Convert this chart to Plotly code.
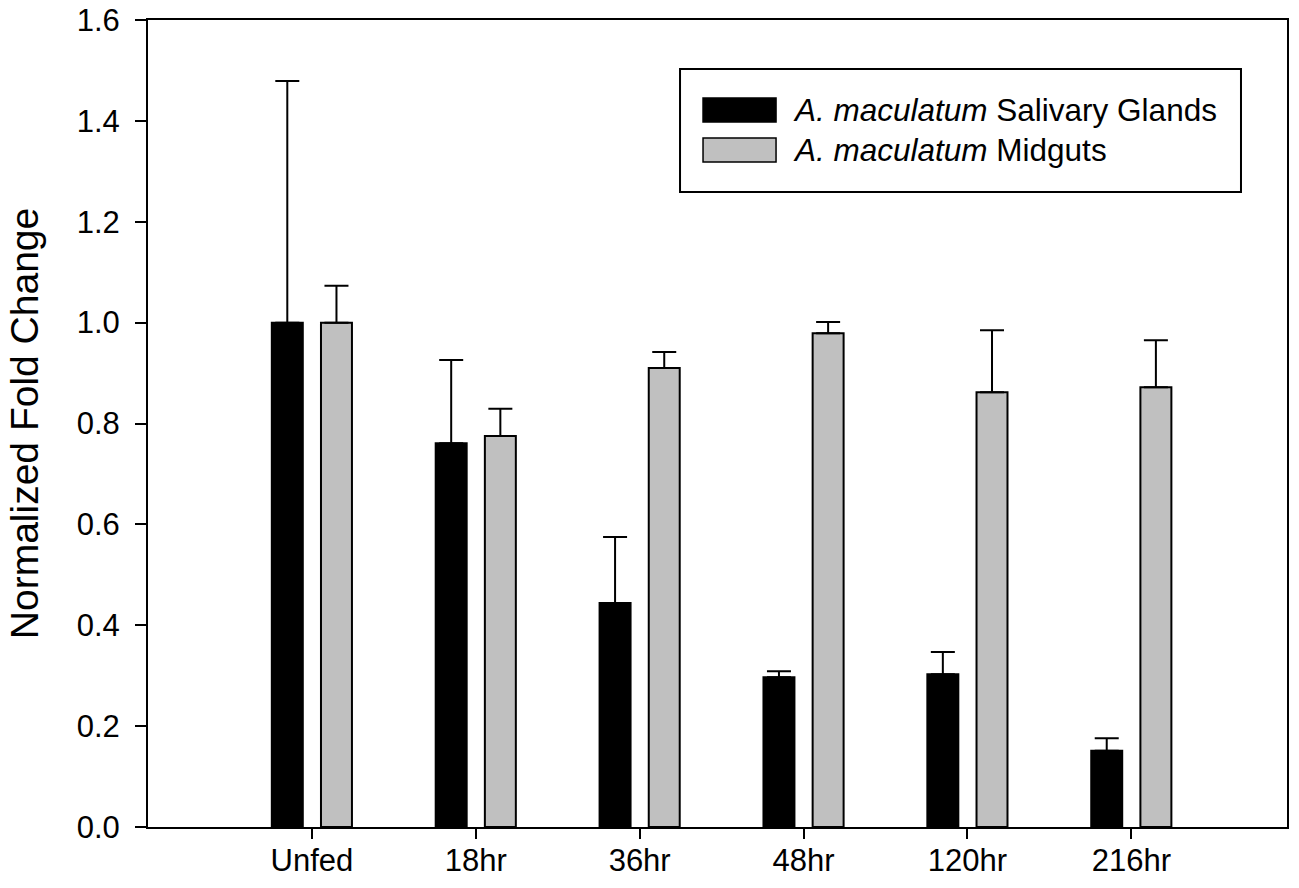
import plotly.graph_objects as go

categories = ["Unfed", "18hr", "36hr", "48hr", "120hr", "216hr"]
sg_name = "<i>A. maculatum</i> Salivary Glands"
mg_name = "<i>A. maculatum</i> Midguts"
sg_values = [1.000, 0.761, 0.444, 0.297, 0.303, 0.151]
sg_err = [0.479, 0.165, 0.131, 0.012, 0.044, 0.025]
mg_values = [1.000, 0.775, 0.910, 0.979, 0.862, 0.872]
mg_err = [0.073, 0.054, 0.032, 0.022, 0.123, 0.093]
y_ticks = [0.0, 0.2, 0.4, 0.6, 0.8, 1.0, 1.2, 1.4, 1.6]

FONT = "Liberation Sans, Arial, sans-serif"
GRAY = "#c0c0c0"

x_idx = list(range(len(categories)))

fig = go.Figure()
fig.add_trace(go.Bar(
    x=x_idx, y=sg_values, name=sg_name,
    marker=dict(color="black", line=dict(color="black", width=2)),
    error_y=dict(type="data", symmetric=False, array=sg_err,
                 arrayminus=[0] * len(sg_err), color="black",
                 thickness=2, width=12),
))
fig.add_trace(go.Bar(
    x=x_idx, y=mg_values, name=mg_name,
    marker=dict(color=GRAY, line=dict(color="black", width=2)),
    error_y=dict(type="data", symmetric=False, array=mg_err,
                 arrayminus=[0] * len(mg_err), color="black",
                 thickness=2, width=12),
))

# custom legend (box, swatches, labels)
legend_items = [(sg_name, "black", 0.9033, 0.8736, 0.8885),
                (mg_name, GRAY, 0.8538, 0.8240, 0.8390)]
shapes = [dict(type="rect", xref="paper", yref="paper",
               x0=0.4671, x1=0.9596, y0=0.7869, y1=0.9393,
               line=dict(color="black", width=2), fillcolor="white", layer="above")]
annotations = []
for name, col, y1, y0, yc in legend_items:
    shapes.append(dict(type="rect", xref="paper", yref="paper",
                       x0=0.4873, x1=0.5514, y0=y0, y1=y1,
                       line=dict(color="black", width=1.5), fillcolor=col, layer="above"))
    annotations.append(dict(xref="paper", yref="paper", x=0.5645, y=yc,
                            text=name, showarrow=False, xanchor="left", yanchor="middle",
                            font=dict(family=FONT, size=31.5, color="black")))

fig.update_layout(
    width=1299, height=888,
    margin=dict(l=148, r=12, t=20, b=61),
    paper_bgcolor="white", plot_bgcolor="white",
    barmode="group", bargap=0.4, bargroupgap=0.37,
    showlegend=False,
    shapes=shapes, annotations=annotations,
    font=dict(family=FONT, color="black"),
)
fig.update_xaxes(
    range=[-1, 5.95], tickmode="array", tickvals=x_idx, ticktext=categories,
    showgrid=False, zeroline=False, automargin=False,
    showline=True, linecolor="black", linewidth=2, mirror=True,
    ticks="outside", ticklen=10, tickwidth=2, tickcolor="black",
    ticklabelstandoff=-5, ticklabeloverflow="allow",
    tickfont=dict(family=FONT, size=31, color="black"),
)
fig.update_yaxes(
    range=[0, 1.6], tickmode="array", tickvals=y_ticks,
    ticktext=[f"{v:.1f}" for v in y_ticks],
    showgrid=False, zeroline=False, automargin=False,
    showline=True, linecolor="black", linewidth=2, mirror=True,
    ticks="outside", ticklen=11, tickwidth=2, tickcolor="black",
    ticklabelstandoff=9, ticklabeloverflow="allow",
    tickfont=dict(family=FONT, size=31, color="black"),
    title=dict(text="Normalized Fold Change", standoff=26,
               font=dict(family=FONT, size=39, color="black")),
)

# remove the default 8px page margin so the 1299x888 figure fills the window exactly
fig.write_html("out.html",
               config={"displayModeBar": False},
               post_script="document.body.style.margin='0px';document.body.style.overflow='hidden';")
